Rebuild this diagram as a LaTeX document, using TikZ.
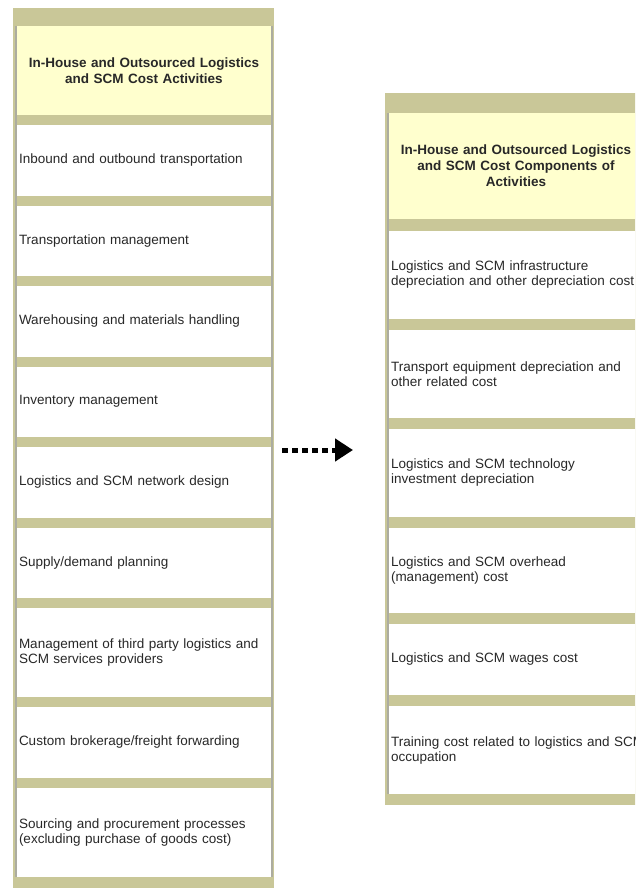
\documentclass[tikz,border=0pt]{standalone}
\usepackage{fontspec}
\setmainfont{Liberation Sans}
\usetikzlibrary{arrows.meta,positioning,calc}
\definecolor{bandolive}{RGB}{201,199,152}
\definecolor{headyellow}{RGB}{255,255,206}
\definecolor{edgegray}{RGB}{172,172,160}
\definecolor{txtgray}{RGB}{40,40,40}

\begin{document}
\begin{tikzpicture}[x=1pt, y=-1pt, font=\fontsize{13.5}{15}\selectfont, text=txtgray,
  cell/.style={fill=white, minimum width=256pt, text width=250pt, inner xsep=3pt, inner ysep=0pt, outer sep=0pt, align=left, anchor=north west},
  head/.style={cell, fill=headyellow, align=center, font=\fontsize{13.5}{16}\selectfont\bfseries},
  band/.style={fill=bandolive},
  edge/.style={draw=edgegray, line width=2.5pt},
  dotarrow/.style={black, line width=5pt, dash pattern=on 6pt off 4pt, -{Triangle[length=18pt,width=22pt]}}]
  \useasboundingbox (0,0) rectangle (635,888);
  \clip (0,0) rectangle (635,888);

  % activities column
  \fill[band] (13,8) rectangle (274,890);
  \node[head, minimum height=89pt] (acthead) at (16,26) {In-House and Outsourced Logistics\\and SCM Cost Activities};
  \node[cell, minimum height=70.5pt, below=10pt of acthead] (act1) {Inbound and outbound transportation};
  \node[cell, minimum height=70.5pt, below=10pt of act1] (act2) {Transportation management};
  \node[cell, minimum height=70.5pt, below=10pt of act2] (act3) {Warehousing and materials handling};
  \node[cell, minimum height=70.5pt, below=10pt of act3] (act4) {Inventory management};
  \node[cell, minimum height=70.5pt, below=10pt of act4] (act5) {Logistics and SCM network design};
  \node[cell, minimum height=70.5pt, below=10pt of act5] (act6) {Supply/demand planning};
  \node[cell, minimum height=89pt, below=10pt of act6] (act7) {Management of third party logistics and\\SCM services providers};
  \node[cell, minimum height=70.5pt, below=10pt of act7] (act8) {Custom brokerage/freight forwarding};
  \node[cell, minimum height=89pt, below=10pt of act8] (act9) {Sourcing and procurement processes\\(excluding purchase of goods cost)};
  \draw[edge] (acthead.north west) -- (act9.south west);
  \draw[edge] (acthead.north east) -- (act9.south east);

  % cost components column
  \fill[band] (385,93) rectangle (670,805);
  \node[head, minimum height=106pt] (comphead) at (388,113) {In-House and Outsourced Logistics\\and SCM Cost Components of\\Activities};
  \node[cell, minimum height=88pt, below=12pt of comphead] (comp1) {Logistics and SCM infrastructure\\depreciation and other depreciation cost};
  \node[cell, minimum height=88pt, below=11pt of comp1] (comp2) {Transport equipment depreciation and\\other related cost};
  \node[cell, minimum height=88pt, below=11pt of comp2] (comp3) {Logistics and SCM technology\\investment depreciation};
  \node[cell, minimum height=85pt, below=11pt of comp3] (comp4) {Logistics and SCM overhead\\(management) cost};
  \node[cell, minimum height=71pt, below=11pt of comp4] (comp5) {Logistics and SCM wages cost};
  \node[cell, minimum height=88pt, text width=270pt, minimum width=276pt, below=11pt of comp5.south west, anchor=north west] (comp6) {Training cost related to logistics and SCM\\occupation};
  \draw[edge] (comphead.north west) -- (comp6.south west);

  \coordinate (arrfrom) at ($(act5.north east)+(10,3)$);
  \coordinate (arrto) at (arrfrom -| comp3.west);
  \draw[dotarrow] (arrfrom) -- ($(arrto)+(-35,0)$);
\end{tikzpicture}
\end{document}
